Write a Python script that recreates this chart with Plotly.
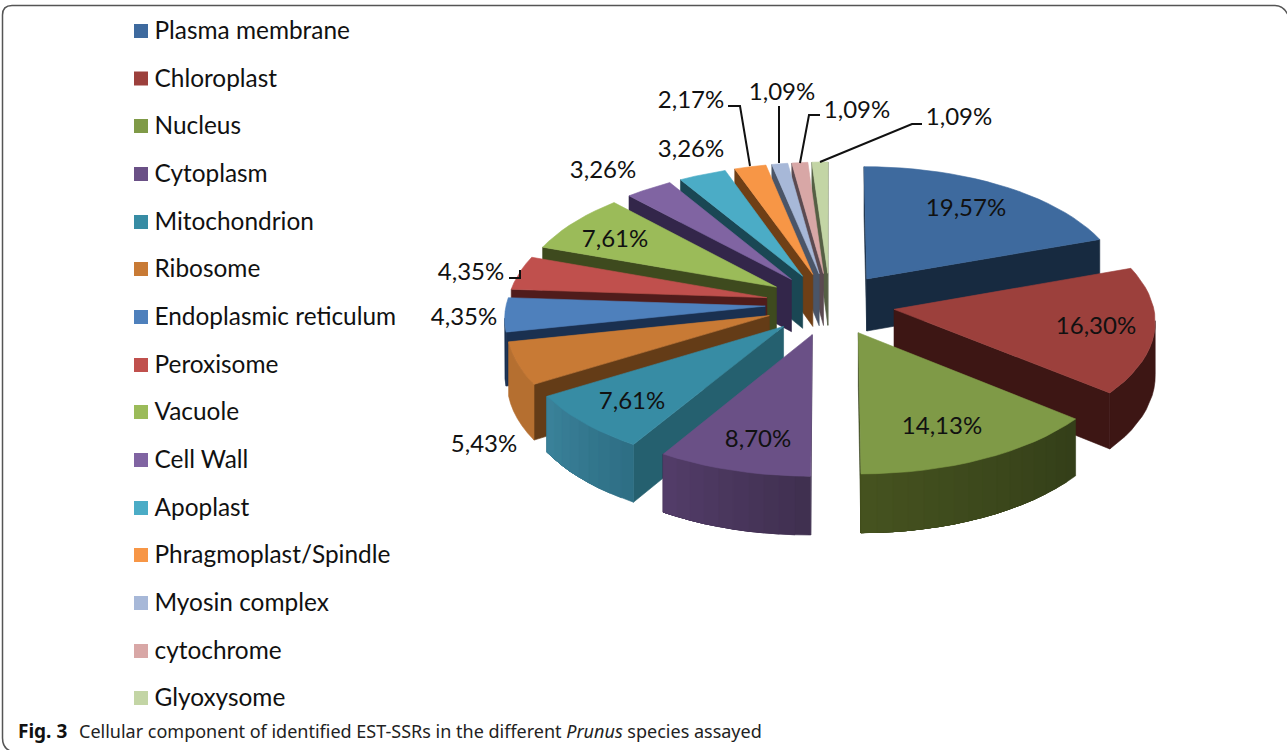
import math
import plotly.graph_objects as go

# ---------- data ----------
categories = ["Plasma membrane", "Chloroplast", "Nucleus", "Cytoplasm", "Mitochondrion",
              "Ribosome", "Endoplasmic reticulum", "Peroxisome", "Vacuole", "Cell Wall",
              "Apoplast", "Phragmoplast/Spindle", "Myosin complex", "cytochrome", "Glyoxysome"]
shares = [19.57, 16.30, 14.13, 8.70, 7.61, 5.43, 4.35, 4.35, 7.61, 3.26, 3.26, 2.17, 1.09, 1.09, 1.09]
value_labels = ["19,57%", "16,30%", "14,13%", "8,70%", "7,61%", "5,43%", "4,35%", "4,35%",
                "7,61%", "3,26%", "3,26%", "2,17%", "1,09%", "1,09%", "1,09%"]

# ---------- styles ----------
top_colors = ["#3E6A9E", "#9C403C", "#7F9A47", "#6A5086", "#378CA4", "#C87A35", "#4E80BC", "#C0504D",
              "#9BBB59", "#8064A2", "#4BACC6", "#F79646", "#A7B8D8", "#D8A7A6", "#C3D5A5"]
side_colors = ["#172A40", "#3D1614", "#343F19", "#403050", "#25606F", "#643C17", "#1A3050", "#501C1B",
               "#3E4A1E", "#33264A", "#1A4754", "#6F3F16", "#4A5568", "#5B4A50", "#555F44"]
wall_left = ["#172A40", "#3D1614", "#45521F", "#523C68", "#3A8199", "#B56F30", "#1A3050", "#501C1B",
             "#3E4A1E", "#33264A", "#1A4754", "#6F3F16", "#4A5568", "#5B4A50", "#555F44"]
wall_right = ["#172A40", "#3D1614", "#343F19", "#403050", "#2E6F85", "#B56F30", "#1A3050", "#501C1B",
              "#3E4A1E", "#33264A", "#1A4754", "#6F3F16", "#4A5568", "#5B4A50", "#555F44"]
legend_colors = top_colors

label_x = [966, 1096, 942, 758, 632, 484, 464, 471, 615, 603, 691, 691, 782, 857, 959]
label_y = [210, 328, 428, 441, 403, 446, 319, 274, 241, 172, 151, 102, 94, 112, 119]
leaders = [
    ([728, 740, 750], [106, 106, 166]),
    ([779, 779], [106, 163]),
    ([820, 809, 800], [115, 115, 163]),
    ([922, 912, 820], [124, 124, 162]),
    ([509, 520, 520], [278, 278, 270]),
]

legend_x = 141
legend_text_x = 154.5
legend_y = [31, 78.5, 126, 174, 222, 269, 317, 365, 412, 460, 508, 555, 603, 651, 698]
legend_text_y = [33, 80.5, 128, 176, 224, 271, 319, 367, 414, 462, 510, 557, 605, 653, 700]

# projection of the pie plane
CX, CY, RX, RY, K, PULL, DEPTH = 830, 304, 259, 125, 0.08, 0.25, 53


def project(px, py):
    s = 1 / (1 + K * py)
    return CX + RX * px * s, CY - RY * py * s, s


def mix(a, b, t):
    ca = [int(a[i:i + 2], 16) for i in (1, 3, 5)]
    cb = [int(b[i:i + 2], 16) for i in (1, 3, 5)]
    return "#%02X%02X%02X" % tuple(round(u + (v - u) * t) for u, v in zip(ca, cb))


def poly(fig, xs, ys, color, name):
    fig.add_trace(go.Scatter(x=xs + xs[:1], y=ys + ys[:1], mode="lines", fill="toself", fillcolor=color,
                             line=dict(color=color, width=0.6), hoverinfo="skip", showlegend=False, name=name))


def band(fig, run, color, name):
    xs = [p[0] for p in run] + [p[0] for p in reversed(run)]
    ys = [p[1] for p in run] + [p[1] + DEPTH * p[2] for p in reversed(run)]
    poly(fig, xs, ys, color, name)


fig = go.Figure()
total = sum(shares)
slices = []
acc = 0
for i, v in enumerate(shares):
    a0 = acc / total * 2 * math.pi
    acc += v
    a1 = acc / total * 2 * math.pi
    slices.append((i, a0, a1))

# back-to-front
for i, a0, a1 in sorted(slices, key=lambda t: -math.cos((t[1] + t[2]) / 2)):
    mid = (a0 + a1) / 2
    ox, oy = PULL * math.sin(mid), PULL * math.cos(mid)
    n = max(2, int((a1 - a0) / math.radians(3)))
    ang = [a0 + (a1 - a0) * j / n for j in range(n + 1)]
    pts = [project(ox + math.sin(t), oy + math.cos(t)) for t in ang]
    apex = project(ox, oy)
    name = categories[i]

    if pts[0][0] < apex[0]:
        band(fig, [apex, pts[0]], side_colors[i], name)
    if apex[0] < pts[-1][0]:
        band(fig, [pts[-1], apex], side_colors[i], name)
    # outer wall: only the part that faces the viewer; each band overlaps the rest so no seams show
    vis = [j for j in range(n) if pts[j + 1][0] < pts[j][0]]
    if vis:
        first, last = vis[0], vis[-1] + 1
        same = wall_left[i] == wall_right[i]
        steps = [first] if same else list(range(first, last))
        for j in steps:
            t = 0 if same else (j - first) / max(1, last - first - 1)
            band(fig, pts[j:last + 1], mix(wall_right[i], wall_left[i], t), name)
    poly(fig, [apex[0]] + [p[0] for p in pts], [apex[1]] + [p[1] for p in pts], top_colors[i], name)

# leader lines
for lx, ly in leaders:
    fig.add_trace(go.Scatter(x=lx, y=ly, mode="lines", line=dict(color="#111111", width=2),
                             hoverinfo="skip", showlegend=False))

# value labels
fig.add_trace(go.Scatter(x=label_x, y=label_y, text=value_labels, mode="text", textposition="middle center",
                         textfont=dict(family="Lato", size=24, color="#111111"), hoverinfo="skip", showlegend=False))

# legend
for name, col, y, ty in zip(categories, legend_colors, legend_y, legend_text_y):
    fig.add_trace(go.Scatter(x=[legend_x], y=[y], mode="markers",
                             marker=dict(symbol="square", size=14, color=col),
                             name=name, hoverinfo="skip", showlegend=False))
    fig.add_trace(go.Scatter(x=[legend_text_x], y=[ty], text=[name], mode="text", textposition="middle right",
                             textfont=dict(family="Lato", size=24.4, color="#111111"),
                             name=name, hoverinfo="skip", showlegend=False))

frame = "M 14,752 Q 2.5,750 2.5,738 L 2.5,15 Q 2.5,5.5 12,5.5 L 1275,5.5 Q 1283,5.5 1287.5,14"
fig.update_layout(
    width=1287, height=750, margin=dict(l=0, r=0, t=0, b=0),
    paper_bgcolor="white", plot_bgcolor="white", showlegend=False,
    xaxis=dict(range=[0, 1287], visible=False, fixedrange=True),
    yaxis=dict(range=[750, 0], visible=False, fixedrange=True),
    shapes=[dict(type="path", path=frame, xref="x", yref="y", line=dict(color="#555555", width=1.5))],
    annotations=[
        dict(x=16, y=731, xref="x", yref="y", xanchor="left", yanchor="middle", showarrow=False,
             text="<b>Fig. 3</b>", font=dict(family="Noto Sans", size=19, color="#111111")),
        dict(x=77, y=731, xref="x", yref="y", xanchor="left", yanchor="middle", showarrow=False,
             text="Cellular component of identified EST-SSRs in the different <i>Prunus</i> species assayed",
             font=dict(family="Noto Sans", size=18, color="#222222")),
    ],
)
fig.write_html("out.html", config={"displayModeBar": False},
               post_script="document.body.style.margin='0';document.documentElement.style.overflow='hidden';")
